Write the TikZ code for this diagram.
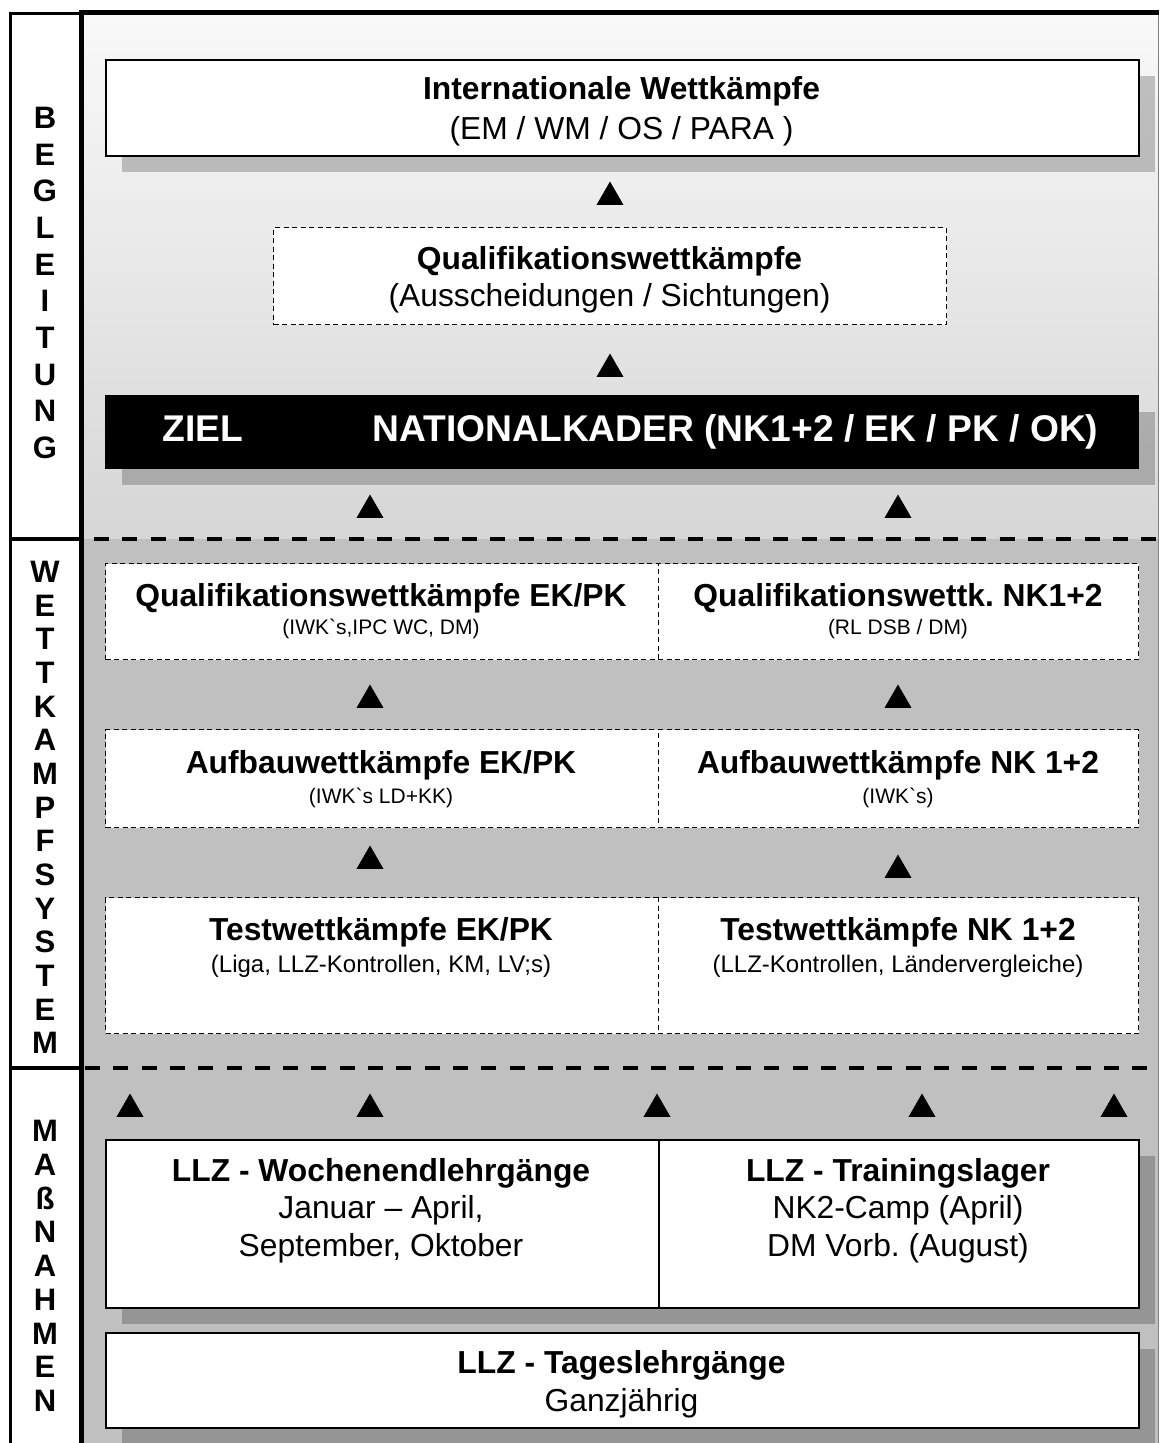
\documentclass[tikz,border=0pt]{standalone}
\usepackage{fontspec}
\setmainfont{Liberation Sans}
\usetikzlibrary{calc, positioning, shapes.geometric, shadows}
\frenchspacing

\definecolor{panelgray}{HTML}{C0C0C0}
\definecolor{toplight}{HTML}{F9F9F9}
\definecolor{topdark}{HTML}{D6D6D6}
\definecolor{edgegray}{HTML}{7F7F7F}

\newcommand{\mainsize}{\fontsize{31.8}{40}\selectfont}
\newcommand{\smallsize}{\fontsize{21}{25}\selectfont}
\newcommand{\midsize}{\fontsize{24}{28}\selectfont}

\begin{document}
\begin{tikzpicture}[x=1pt, y=-1pt,
    solidbox/.style={draw, line width=2pt, fill=white, inner sep=0pt, anchor=north west},
    dashbox/.style={draw, line width=1.4pt, dash pattern=on 5pt off 3.5pt, fill=white, inner sep=0pt, anchor=north west},
    shadowed/.style={drop shadow={shadow xshift=16pt, shadow yshift=-16pt, fill=black, opacity=0.22}},
    txt/.style={align=center, font=\mainsize, inner sep=0pt},
    zieltxt/.style={font=\fontsize{37.2}{44}\selectfont\bfseries, text=white, anchor=base, inner sep=0pt},
    sidetxt/.style={align=center, inner sep=0pt, font=\fontsize{31}{#1}\selectfont\bfseries},
    tri/.style={regular polygon, regular polygon sides=3, fill=black, inner sep=0pt, minimum size=31pt},
    sectionline/.style={line width=3.5pt, dash pattern=on 15pt off 13.3pt}]

    % Background
    \useasboundingbox (0,0) rectangle (1161,1443);
    \shade[top color=toplight, bottom color=topdark] (82,13) rectangle (1158,539);
    \fill[panelgray] (82,539) rectangle (1158,1443);

    % Frame
    \draw[edgegray, line width=1.2pt] (1158.5,13) -- (1158.5,1443);
    \draw[line width=3pt] (10,1443) -- (10,13.5) -- (82,13.5);
    \draw[line width=4.5pt] (81.5,1443) -- (81.5,12.5) -- (1159,12.5);
    \draw[line width=3.5pt] (10,539) -- (82,539);
    \draw[sectionline] (94,539) -- (1158,539);
    \draw[line width=3.5pt] (10,1068) -- (82,1068);
    \draw[sectionline] (85,1068) -- (1158,1068);

    % Side labels
    \node[sidetxt=36.67] (begl) at (45,283) {B\\E\\G\\L\\E\\I\\T\\U\\N\\G};
    \node[sidetxt=33.64] (wett) at (45,807.5) {W\\E\\T\\T\\K\\A\\M\\P\\F\\S\\Y\\S\\T\\E\\M};
    \node[sidetxt=33.75] (mass) at (45,1266) {M\\A\\ß\\N\\A\\H\\M\\E\\N};

    % Top section
    \node[solidbox, shadowed, minimum width=1033pt, minimum height=96pt] (intl) at (105,59) {};
    \node[txt] (intltxt) at (621.5,111.3) {\textbf{Internationale Wettkämpfe}\\(EM / WM / OS / PARA )};
    \node[dashbox, minimum width=673pt, minimum height=97pt] (quali) at (273,227) {};
    \node[txt] (qualitxt) at (609.5,279.3) {\textbf{Qualifikationswettkämpfe}\\[-3pt](Ausscheidungen / Sichtungen)};
    \node[solidbox, shadowed, fill=black, line width=1pt, minimum width=1033pt, minimum height=73pt] (ziel) at (105,395) {};
    \node[zieltxt] (zielword) at (203,441) {ZIEL};
    \node[zieltxt] (nkword) at (735.5,441) {NATIONALKADER (NK1+2 / EK / PK / OK)};

    % Competition system
    \node[dashbox, minimum width=552.5pt, minimum height=96pt] (qek) at (105,563) {};
    \node[dashbox, minimum width=480.5pt, minimum height=96pt] (qnk) at (657.5,563) {};
    \node[txt] (qektxt) at (381,610.7) {\textbf{Qualifikationswettkämpfe EK/PK}\\[-12pt]{\smallsize(IWK\textasciigrave s,IPC WC, DM)}};
    \node[txt] (qnktxt) at (898,610.7) {\textbf{Qualifikationswettk. NK1+2}\\[-12pt]{\smallsize(RL DSB / DM)}};
    \node[dashbox, minimum width=552.5pt, minimum height=98pt] (aek) at (105,729) {};
    \node[dashbox, minimum width=480.5pt, minimum height=98pt] (ank) at (657.5,729) {};
    \node[txt] (aektxt) at (381,778.7) {\textbf{Aufbauwettkämpfe EK/PK}\\[-10pt]{\smallsize(IWK\textasciigrave s LD+KK)}};
    \node[txt] (anktxt) at (898,778.7) {\textbf{Aufbauwettkämpfe NK 1+2}\\[-10pt]{\smallsize(IWK\textasciigrave s)}};
    \node[dashbox, minimum width=552.5pt, minimum height=136pt] (tek) at (105,897) {};
    \node[dashbox, minimum width=480.5pt, minimum height=136pt] (tnk) at (657.5,897) {};
    \node[txt] (tektxt) at (381,947.7) {\textbf{Testwettkämpfe EK/PK}\\[-8.5pt]{\midsize(Liga, LLZ-Kontrollen, KM, LV;s)}};
    \node[txt] (tnktxt) at (898,947.7) {\textbf{Testwettkämpfe NK 1+2}\\[-8.5pt]{\midsize(LLZ-Kontrollen, Ländervergleiche)}};

    % Measures
    \node[solidbox, shadowed, minimum width=552.5pt, minimum height=168pt] (woch) at (105,1139) {};
    \node[solidbox, shadowed, minimum width=480.5pt, minimum height=168pt] (train) at (657.5,1139) {};
    \node[txt] (wochtxt) at (381,1210.3) {\textbf{LLZ - Wochenendlehrgänge}\\[-2.5pt]Januar – April,\\[-2.5pt]September, Oktober};
    \node[txt] (traintxt) at (898,1210.3) {\textbf{LLZ - Trainingslager}\\[-2.5pt]NK2-Camp (April)\\[-2.5pt]DM Vorb. (August)};
    \node[solidbox, shadowed, minimum width=1033pt, minimum height=95pt] (tages) at (105,1332) {};
    \node[txt] (tagestxt) at (621.5,1383.8) {\textbf{LLZ - Tageslehrgänge}\\[-2pt]Ganzjährig};

    % Triangles
    \foreach \x/\y [count=\i] in {610/197, 610/369, 370/510, 898/510, 370/700, 898/700, 370/861, 898/870,
                                   130/1109, 370/1109, 657/1109, 922/1109, 1114/1109}
        \node[tri] (tri\i) at (\x,\y) {};
\end{tikzpicture}
\end{document}
